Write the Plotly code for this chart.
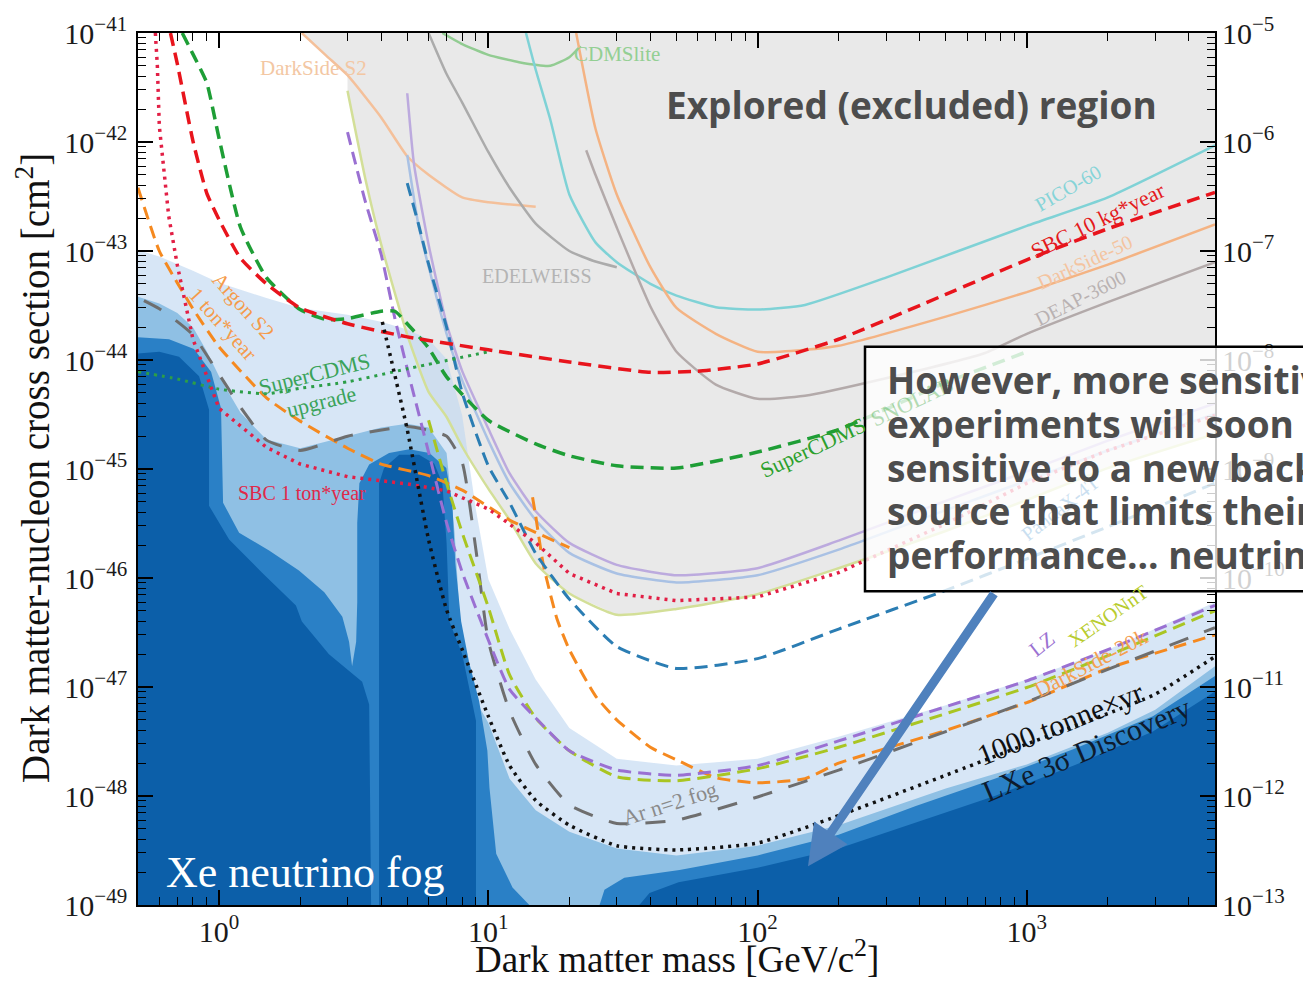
import math
import plotly.graph_objects as go

SERIF = "Liberation Serif"
SANS = "Open Sans"

# ---------------- data: mass [GeV/c^2], cross section [cm^2] ----------------
# current limits (solid)
pico60_m = [13.8, 15, 17, 20, 25, 30, 40, 50, 70, 100, 150, 300, 1000, 2000, 5000]
pico60_s = [1e-41, 4.6e-42, 1.6e-42, 3.3e-43, 1.2e-43, 7.9e-44, 5.0e-44, 3.9e-44, 3.05e-44, 2.9e-44,
            3.2e-44, 5.7e-44, 1.7e-43, 3.1e-43, 9.3e-43]
ds50_m = [21.2, 25, 30, 40, 50, 70, 100, 150, 200, 500, 1000, 2000, 5000]
ds50_s = [1e-41, 1.33e-42, 3.3e-43, 7.1e-44, 3.0e-44, 1.74e-44, 1.19e-44, 1.24e-44, 1.35e-44, 2.5e-44,
          4.2e-44, 7.5e-44, 1.75e-43]
deap_m = [23.1, 25, 30, 40, 50, 70, 100, 150, 300, 700, 1000, 2000, 5000]
deap_s = [8.4e-43, 5.0e-43, 1.64e-43, 3.1e-44, 1.19e-44, 5.95e-45, 4.4e-45, 4.7e-45, 6.8e-45, 1.16e-44,
          1.74e-44, 3.4e-44, 7.9e-44]
edel_m = [6.0, 7, 8, 10, 12, 15, 20, 25, 30]
edel_s = [1e-41, 4.2e-42, 2.3e-42, 8.1e-43, 3.8e-43, 1.78e-43, 1.0e-43, 8.0e-44, 7.1e-44]
cdmslite_m = [6.75, 8, 10, 13, 17, 20, 22]
cdmslite_s = [1e-41, 7.9e-42, 6.3e-42, 5.4e-42, 5.0e-42, 6.0e-42, 7.6e-42]
ds2_m = [2.03, 2.5, 3.0, 4.0, 5.0, 6.0, 8.0, 10, 15]
ds2_s = [1e-41, 6.2e-42, 4.1e-42, 1.68e-42, 7.4e-43, 5.0e-43, 3.1e-43, 2.8e-43, 2.55e-43]
xe1t_m = [3.0, 3.5, 4, 5, 6, 7, 8, 10, 12, 15, 20, 30, 50, 100, 200, 500, 1000, 2000, 5000]
xe1t_s = [2.95e-42, 4.5e-43, 1.15e-43, 1.7e-44, 5.1e-45, 3.0e-45, 1.6e-45, 6.6e-46, 3.4e-46, 1.36e-46,
          7.2e-47, 4.6e-47, 5.2e-47, 7.1e-47, 1.23e-46, 2.7e-46, 5.2e-46, 1.02e-45, 2.1e-45]
lz22_m = [5.0, 5.3, 6, 7, 8, 10, 12, 15, 20, 30, 50, 100, 200, 500, 1000, 2000, 5000]
lz22_s = [2.8e-42, 6.2e-43, 1.15e-43, 2.15e-44, 7.9e-45, 2.35e-45, 9.1e-46, 4.1e-46, 2.1e-46, 1.32e-46,
          1.06e-46, 1.23e-46, 2.2e-46, 5.1e-46, 9.5e-46, 1.82e-45, 4.0e-45]
pdx4_m = [5.0, 5.5, 6, 7, 8, 10, 12, 15, 20, 30, 50, 100, 200, 500, 1000, 2000, 5000]
pdx4_s = [7.6e-43, 1.74e-43, 7.2e-44, 1.74e-44, 6.5e-45, 1.83e-45, 7.4e-46, 3.4e-46, 1.7e-46, 1.1e-46,
          9.1e-47, 1.06e-46, 1.82e-46, 4.2e-46, 7.8e-46, 1.48e-45, 3.2e-45]

# projections (dashed / dotted)
sbc10_m = [0.66, 0.7, 0.8, 0.9, 1, 1.2, 1.5, 2, 3, 5, 10, 20, 40, 60, 100, 200, 500, 1000, 2000, 5000]
sbc10_s = [1e-41, 5.2e-42, 1.02e-42, 3.4e-43, 1.94e-43, 8.6e-44, 5.0e-44, 3.0e-44, 2.15e-44, 1.63e-44,
           1.24e-44, 9.6e-45, 7.7e-45, 7.9e-45, 9.2e-45, 1.55e-44, 4.0e-44, 8.3e-44, 1.6e-43, 3.45e-43]
sbc1t_m = [0.58, 0.59, 0.6, 0.65, 0.7, 0.8, 1, 1.5, 2, 3, 5, 7, 10, 15, 20, 30, 50, 100, 200, 500,
           1000, 2000, 5000]
sbc1t_s = [1e-41, 5.0e-42, 1.4e-42, 2.1e-43, 7.4e-44, 1.55e-44, 3.6e-45, 1.58e-45, 1.11e-45, 8.5e-46,
           7.3e-46, 6.3e-46, 4.3e-46, 2.1e-46, 1.1e-46, 7.2e-47, 6.2e-47, 6.7e-47, 1.12e-46, 3.15e-46,
           7.4e-46, 1.48e-45, 3.1e-45]
snolab_m = [0.73, 0.8, 0.9, 1, 1.2, 1.5, 2, 2.5, 3, 4, 4.5, 5, 6, 7, 10, 15, 20, 30, 50, 100, 200, 500, 1000]
snolab_s = [1e-41, 6.4e-42, 3.5e-42, 1.08e-42, 1.66e-43, 5.7e-44, 2.9e-44, 2.35e-44, 2.4e-44, 2.8e-44,
            2.8e-44, 2.15e-44, 1.29e-44, 7.0e-45, 2.8e-45, 1.7e-45, 1.32e-45, 1.07e-45, 1.02e-45,
            1.43e-45, 2.3e-45, 6.2e-45, 1.19e-44]
cdmsup_m = [0.5, 0.7, 1, 1.5, 2, 3, 5, 10]
cdmsup_s = [7.8e-45, 6.7e-45, 5.4e-45, 4.9e-45, 5.5e-45, 6.3e-45, 8.3e-45, 1.19e-44]
ars2_m = [0.5, 0.6, 0.7, 0.8, 1, 1.5, 2, 3, 4, 6, 8, 12, 20]
ars2_s = [3.8e-43, 1.0e-43, 5.1e-44, 2.95e-44, 1.32e-44, 4.5e-45, 2.75e-45, 1.55e-45, 1.11e-45, 8.7e-46,
          6.4e-46, 3.4e-46, 1.9e-46]
ds20k_m = [14.6, 15, 16, 18, 20, 25, 30, 40, 50, 70, 100, 150, 200, 500, 1000, 2000, 5000]
ds20k_s = [5.5e-46, 3.7e-46, 1.33e-46, 4.2e-47, 2.2e-47, 8.3e-48, 5.0e-48, 2.8e-48, 2.15e-48, 1.47e-48,
           1.32e-48, 1.44e-48, 2.0e-48, 4.0e-48, 7.2e-48, 1.48e-47, 3.0e-47]
lzp_m = [3.0, 3.5, 4, 4.5, 5, 6, 7, 8, 10, 12, 15, 20, 30, 50, 100, 200, 500, 1000, 2000, 5000]
lzp_s = [1.23e-42, 2.8e-43, 9.3e-44, 2.4e-44, 8.3e-45, 1.43e-45, 3.2e-46, 1.13e-46, 2.7e-47, 9.5e-48,
         5.2e-48, 2.6e-48, 1.73e-48, 1.55e-48, 1.9e-48, 3.2e-48, 6.6e-48, 1.14e-47, 2.2e-47, 5.6e-47]
xnt_m = [6.0, 7, 8, 10, 12, 15, 20, 30, 50, 100, 200, 500, 1000, 2000, 5000]
xnt_s = [2.8e-45, 7.4e-46, 2.6e-46, 5.4e-47, 1.29e-47, 5.2e-48, 2.6e-48, 1.5e-48, 1.38e-48, 1.78e-48,
         2.8e-48, 5.7e-48, 9.9e-48, 1.94e-47, 5.0e-47]
pdxp_m = [5.0, 5.5, 6, 7, 8, 10, 12, 15, 20, 30, 50, 100, 200, 500, 1000, 2000, 5000]
pdxp_s = [4.2e-43, 1.78e-43, 7.6e-44, 2.0e-44, 5.0e-45, 1.07e-45, 4.9e-46, 1.68e-46, 6.4e-47, 2.35e-47,
          1.48e-47, 1.82e-47, 3.4e-47, 7.7e-47, 1.5e-46, 2.95e-46, 7.4e-46]
arfog_m = [0.526, 0.6, 0.7, 0.8, 1, 1.2, 1.5, 2, 3, 5, 6, 7, 8, 9, 10, 12, 15, 20, 30, 50, 100, 200,
           500, 1000, 2000, 5000]
arfog_s = [3.5e-44, 2.95e-44, 2.25e-44, 1.7e-44, 7.4e-45, 3.7e-45, 1.84e-45, 1.48e-45, 2.0e-45, 2.45e-45,
           2.26e-45, 2.0e-45, 1.15e-45, 1.8e-46, 2.65e-47, 6.0e-48, 1.95e-48, 8.3e-49, 5.6e-49, 6.0e-49,
           9.8e-49, 1.73e-48, 3.9e-48, 7.3e-48, 1.45e-47, 3.5e-47]
tonne_m = [4.04, 4.5, 5, 6, 7, 8, 10, 12, 15, 20, 30, 50, 100, 200, 500, 1000, 2000, 3000, 5000]
tonne_s = [2.24e-44, 7.2e-45, 2.3e-45, 2.25e-46, 5.1e-47, 2.2e-47, 5.4e-48, 1.9e-48, 9.1e-49, 5.4e-49,
           3.5e-49, 3.2e-49, 3.7e-49, 6.6e-49, 1.55e-48, 3.0e-48, 5.7e-48, 8.6e-48, 1.9e-47]

# Xe neutrino fog contours (upper boundaries / outlines)
fog1_m = [0.5, 0.6, 0.8, 1, 1.5, 2, 3, 4, 5, 6, 7, 8, 9, 10, 12, 15, 20, 30, 50, 100, 200, 500, 1000,
          2000, 5000]
fog1_s = [1.02e-43, 8.9e-44, 6.6e-44, 5.1e-44, 3.7e-44, 3.0e-44, 2.6e-44, 2.24e-44, 1.9e-44, 1.55e-44,
          1.02e-44, 3.1e-45, 4.2e-46, 9.8e-47, 3.4e-47, 1.17e-47, 4.2e-48, 2.2e-48, 1.9e-48, 2.2e-48,
          3.5e-48, 6.8e-48, 1.17e-47, 2.2e-47, 6.0e-47]
fog2_m = [0.5, 0.6, 0.7, 0.8, 0.9, 1, 1.2, 1.5, 2, 3, 4, 5, 6, 7, 7.5, 8, 9, 10, 12, 15, 20, 30, 50,
          100, 200, 500, 1000, 2000, 3000, 5000]
fog2_s = [3.8e-44, 3.3e-44, 2.7e-44, 2.0e-44, 1.2e-44, 7.1e-45, 3.3e-45, 1.86e-45, 1.55e-45, 2.0e-45,
          2.4e-45, 2.6e-45, 2.4e-45, 1.4e-45, 2.6e-46, 1.86e-47, 7.4e-48, 4.7e-48, 1.44e-48, 7.4e-49,
          4.7e-49, 3.3e-49, 2.85e-49, 3.5e-49, 5.4e-49, 1.17e-48, 1.95e-48, 3.8e-48, 6.2e-48, 1.55e-47]
med1_m = [0.5, 0.652, 0.807, 0.934, 1.017, 1.035, 1.187, 1.534, 1.98, 2.46, 2.87, 3.04, 3.12, 3.23,
          3.26, 3.26, 3.32, 3.61, 4.28, 5.09, 6.04, 6.98, 7.35, 7.54, 7.93, 8.48, 9.25, 9.92, 10.1,
          10.7, 12.3, 14.2, 0.5]
med1_s = [1.62e-44, 1.55e-44, 1.26e-44, 7.8e-45, 3.6e-45, 4.9e-46, 2.6e-46, 1.79e-46, 1.17e-46,
          7.4e-47, 4.4e-47, 2.6e-47, 1.55e-47, 2.6e-47, 6.0e-47, 3.2e-46, 7.4e-46, 1.1e-45, 1.4e-45,
          1.52e-45, 1.4e-45, 1.02e-45, 4.9e-46, 1.38e-46, 4.0e-47, 1.7e-47, 7.4e-48, 2.6e-48, 1.19e-48,
          2.95e-49, 1.45e-49, 1e-49, 1e-49]
med2_m = [25.9, 27.0, 32.0, 51.3, 100, 200, 387, 760, 1495, 2940, 5000, 5000]
med2_s = [1e-49, 1.38e-49, 1.78e-49, 2.1e-49, 2.85e-49, 4.4e-49, 8.1e-49, 1.44e-48, 2.7e-48, 5.4e-48,
          1.26e-47, 1e-49]
dk1_m = [0.5, 0.6, 0.71, 0.843, 0.918, 0.918, 1.09, 1.445, 1.93, 2.03, 2.56, 3.4, 3.61, 3.67, 0.5]
dk1_s = [1.15e-44, 1.19e-44, 1.07e-44, 7.1e-45, 3.5e-45, 4.6e-46, 2.25e-46, 1.12e-46, 5.6e-47, 4.0e-47,
         2.0e-47, 1.12e-47, 6.9e-48, 1e-49, 1e-49]
dk2_m = [3.93, 3.93, 4.1, 4.67, 5.53, 6.3, 6.75, 7.0, 7.17, 8.0, 9.0, 9.0]
dk2_s = [1e-49, 7.4e-46, 1.02e-45, 1.35e-45, 1.35e-45, 1.12e-45, 7.4e-46, 2.1e-46, 4.0e-47, 2.0e-47,
         4.9e-48, 1e-49]
dk3_m = [36.4, 39.7, 50.9, 100, 200, 387, 760, 1495, 2940, 5000, 5000]
dk3_s = [1e-49, 1.29e-49, 1.62e-49, 2.2e-49, 3.3e-49, 5.7e-49, 1.0e-48, 1.9e-48, 3.9e-48, 9.1e-48, 1e-49]

X_MIN, X_MAX = 0.5, 5000
Y_MIN, Y_MAX = 1e-49, 1e-41
PB = 1e-36  # 1 pb = 1e-36 cm^2 (right axis)

# ---------------- figure ----------------
fig = go.Figure()


def poly(xs, ys, color):
    fig.add_trace(go.Scatter(x=xs, y=ys, mode="lines", fill="toself", fillcolor=color,
                             line=dict(width=0), hoverinfo="skip", showlegend=False))


def curve(xs, ys, color, width=2.5, dash="solid", shape="spline"):
    fig.add_trace(go.Scatter(x=xs, y=ys, mode="lines",
                             line=dict(color=color, width=width, dash=dash, shape=shape, smoothing=0.5),
                             hoverinfo="skip", showlegend=False))


# explored region (grey)
gx = ds2_m[:3] + xe1t_m + [X_MAX]
gy = ds2_s[:3] + xe1t_s + [Y_MAX]
poly(gx, gy, "#e9e9e9")

# neutrino fog shades
poly(fog1_m + [X_MAX, X_MIN], fog1_s + [Y_MIN, Y_MIN], "rgba(190,215,240,0.62)")
poly(fog2_m + [X_MAX, X_MIN], fog2_s + [Y_MIN, Y_MIN], "#8fc0e4")
poly(med1_m, med1_s, "#2a80c6")
poly(med2_m, med2_s, "#2a80c6")
poly(dk1_m, dk1_s, "#0c5fa9")
poly(dk2_m, dk2_s, "#0c5fa9")
poly(dk3_m, dk3_s, "#0c5fa9")

# existing limits (solid, pale)
curve(cdmslite_m, cdmslite_s, "#92cc92")
curve(ds2_m, ds2_s, "#f4c09a")
curve(edel_m, edel_s, "#ababab")
curve(pico60_m, pico60_s, "#7fd2d6")
curve(ds50_m, ds50_s, "#f4b383")
curve(deap_m, deap_s, "#b3aaaa")
curve(xe1t_m, xe1t_s, "#d3df98")
curve(pdx4_m, pdx4_s, "#a9c1e4")
curve(lz22_m, lz22_s, "#bcaade")

# projections
DASH = "13px,7px"
DOT = "3px,5px"
curve(ars2_m, ars2_s, "#f5891f", 3, DASH)
curve(ds20k_m, ds20k_s, "#f5891f", 3, DASH)
curve(arfog_m, arfog_s, "#6e6e6e", 3, "20px,17px")
curve(pdxp_m, pdxp_s, "#2b7db3", 3, DASH)
curve(xnt_m, xnt_s, "#a9c522", 3, DASH)
curve(lzp_m, lzp_s, "#9a70d2", 3, DASH)
curve(snolab_m, snolab_s, "#1e9e36", 3.5, DASH)
curve(cdmsup_m, cdmsup_s, "#2c9e48", 3, DOT)
curve(sbc1t_m, sbc1t_s, "#e21f45", 3.5, DOT, shape="linear")
curve(sbc10_m, sbc10_s, "#e8141c", 3.5, DASH)
curve(tonne_m, tonne_s, "#111111", 3.5, DOT)

# right axis (pb) – same range expressed in picobarn
fig.add_trace(go.Scatter(x=[], y=[], yaxis="y2", showlegend=False, hoverinfo="skip"))

# ---------------- layout ----------------
W, H = 1303, 984
L, R, T, B = 138, 1215, 27, 905


def px(x):
    return (x - L) / (R - L)


def py(y):
    return (B - y) / (B - T)


ann = []


def label(text, x, y, color, size=20, angle=0, opacity=1.0, family=SERIF, xanchor="center"):
    ann.append(dict(text=text, x=px(x), y=py(y), xref="paper", yref="paper", showarrow=False,
                    textangle=angle, opacity=opacity, xanchor=xanchor, yanchor="middle",
                    font=dict(family=family, size=size, color=color)))


label("DarkSide S2", 313, 62, "#f3c7a3", 21)
label("CDMSlite", 617, 48, "#93cf93", 21)
label("EDELWEISS", 537, 272, "#b4b4b4", 20)
label("PICO-60", 1068, 183, "#86d4d8", 20, -30)
label("SBC 10 kg*year", 1098, 216, "#e41a1c", 22, -26)
label("DarkSide-50", 1085, 258, "#f4c4a0", 20, -25)
label("DEAP-3600", 1080, 294, "#b9b2b2", 20, -27)
label("SuperCDMS", 813, 444, "#2ca02c", 22, -25)
label("SNOLAB", 912, 398, "#2ca02c", 22, -25, 0.35)
label("PandaX-4T", 1060, 505, "#6aa6d6", 20, -38, 0.35)
label("Argon S2<br>1 ton*year", 233, 310, "#f59b4a", 21, 48)
label("SuperCDMS<br>upgrade", 318, 384, "#3aa35a", 22, -14)
label("SBC 1 ton*year", 302, 491, "#e0284a", 20)
label("Ar n=2 fog", 670, 803, "#8a8a8a", 22, -18)
label("LZ", 1042, 642, "#9b72d2", 21, -38)
label("XENONnT", 1108, 614, "#b8cc2e", 20, -35)
label("DarkSide-20k", 1090, 662, "#f5a050", 22, -27)
label("1000 tonne×yr", 1060, 722, "#111111", 30, -22)
label("LXe 3σ Discovery", 1086, 748, "#0d1b2e", 30, -23)
label("Xe neutrino fog", 305, 872, "white", 44)

# axis titles
label("Dark matter mass [GeV/c<sup>2</sup>]", 677, 957, "#111111", 37)
label("Dark matter-nucleon cross section [cm<sup>2</sup>]", 33, 465, "#111111", 39, -90)

# overlay texts
TXT = "#4d4d4d"
label("<b>Explored (excluded) region</b>", 911, 99, TXT, 37, family=SANS)
box_lines = ["However, more sensitive", "experiments will soon be", "sensitive to a new background",
             "source that limits their", "performance... neutrinos"]
for i, t in enumerate(box_lines):
    label("<b>" + t + "</b>", 885, 376 + 44 * i, TXT, 37, family=SANS, xanchor="left")

# arrow
ann.append(dict(text="", x=px(808), y=py(866), xref="paper", yref="paper", showarrow=True,
                ax=187, ay=-274, axref="pixel", ayref="pixel", arrowhead=2, arrowsize=0.9,
                arrowwidth=9, arrowcolor="#4f81bd"))

tickfont = dict(family=SERIF, size=24, color="#1a1a1a")
minor = dict(ticks="inside", ticklen=8, tickwidth=1.2, tickcolor="black", showgrid=False)

fig.update_layout(
    width=W, height=H,
    margin=dict(l=L, r=W - R, t=T, b=H - B),
    paper_bgcolor="white", plot_bgcolor="white",
    showlegend=False,
    font=dict(family=SERIF),
    xaxis=dict(type="log", range=[math.log10(X_MIN), math.log10(X_MAX)], dtick=1,
               exponentformat="power", labelalias={"1": "10<sup>0</sup>", "10": "10<sup>1</sup>"},
               ticks="inside", ticklen=15, tickwidth=1.5, tickcolor="black", minor=minor,
               showline=True, linecolor="black", linewidth=2, mirror="ticks", showgrid=False,
               zeroline=False, tickfont=tickfont),
    yaxis=dict(type="log", range=[math.log10(Y_MIN), math.log10(Y_MAX)], dtick=1,
               exponentformat="power", ticks="inside", ticklen=15, tickwidth=1.5, tickcolor="black",
               minor=minor, showline=True, linecolor="black", linewidth=2, mirror="ticks",
               showgrid=False, zeroline=False, tickfont=tickfont, ticklabelstandoff=4),
    yaxis2=dict(type="log", range=[math.log10(Y_MIN / PB), math.log10(Y_MAX / PB)], dtick=1,
                exponentformat="power", overlaying="y", side="right", ticks="", showline=False,
                showgrid=False, zeroline=False, tickfont=tickfont, ticklabelstandoff=6),
    annotations=ann,
    shapes=[dict(type="rect", xref="paper", yref="paper", x0=px(865), x1=px(1345), y0=py(589),
                 y1=py(343), fillcolor="rgba(255,255,255,0.8)", line=dict(color="black", width=2.5),
                 layer="above")],
)

fig.write_html("out.html")
